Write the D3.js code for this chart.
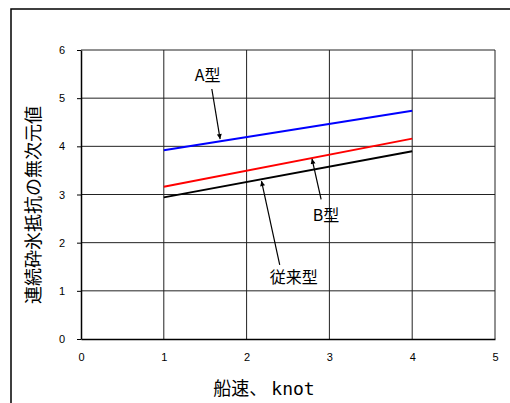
<!DOCTYPE html>
<html>
<head>
<meta charset="utf-8">
<script src="https://cdn.jsdelivr.net/npm/d3@7"></script>
<style>
  html, body { margin: 0; padding: 0; background: #fff; }
  svg { display: block; }
</style>
</head>
<body>
<svg id="chart"></svg>
<script>
// values
const speeds = [1, 4];
const typeA = [3.92, 4.74];
const typeB = [3.16, 4.16];
const conventional = [2.94, 3.90];
const xTicks = [0, 1, 2, 3, 4, 5];
const yTicks = [0, 1, 2, 3, 4, 5, 6];

// label callouts in data units: label point, arrow start, arrow tip on the line
const callouts = [
  {text: "A型", lx: 1.53, ly: 5.47, sx: 1.58, sy: 5.19, ex: 1.68, ey: 4.15},
  {text: "B型", lx: 2.96, ly: 2.57, sx: 2.9, sy: 2.9, ex: 2.79, ey: 3.74},
  {text: "従来型", lx: 2.57, ly: 1.27, sx: 2.4, sy: 1.54, ex: 2.18, ey: 3.28}
];

const width = 510, height = 403;
const margin = {top: 50, right: 15, bottom: 64, left: 81};

const svg = d3.select("#chart")
    .attr("width", width)
    .attr("height", height)
    .attr("viewBox", [0, 0, width, height]);

// outer frame
svg.append("rect")
    .attr("x", 11).attr("y", 9)
    .attr("width", 520).attr("height", 420)
    .attr("fill", "none")
    .attr("stroke", "#000")
    .attr("stroke-width", 1.5);

const x = d3.scaleLinear([0, 5], [margin.left, width - margin.right]);
const y = d3.scaleLinear([0, 6], [height - margin.bottom, margin.top]);

// grid
svg.append("g")
    .attr("stroke", "#222")
    .attr("stroke-width", 1)
    .call(g => g.selectAll("line.v").data(xTicks.slice(1)).join("line")
        .attr("x1", d => x(d)).attr("x2", d => x(d))
        .attr("y1", y(0)).attr("y2", y(6)))
    .call(g => g.selectAll("line.h").data(yTicks.slice(1)).join("line")
        .attr("x1", x(0)).attr("x2", x(5))
        .attr("y1", d => y(d)).attr("y2", d => y(d)));

const tickFont = "'Liberation Sans', Arial, sans-serif";

svg.append("g")
    .attr("transform", `translate(0,${y(0)})`)
    .call(d3.axisBottom(x).tickValues(xTicks).tickFormat(d3.format("d")).tickSize(0).tickPadding(14))
    .call(g => g.select(".domain").attr("stroke-width", 1.5))
    .call(g => g.selectAll("text").attr("font-family", tickFont).attr("font-size", 11).attr("fill", "#000"));

svg.append("g")
    .attr("transform", `translate(${x(0)},0)`)
    .call(d3.axisLeft(y).tickValues(yTicks).tickFormat(d3.format("d")).tickSize(4).tickSizeOuter(0).tickPadding(12))
    .call(g => g.select(".domain").attr("stroke-width", 1.5))
    .call(g => g.selectAll("text").attr("font-family", tickFont).attr("font-size", 11).attr("fill", "#000"));

// series
const line = d3.line().x(d => x(d[0])).y(d => y(d[1]));
const series = [
  {values: typeA, color: "#0000ff"},
  {values: typeB, color: "#ff0000"},
  {values: conventional, color: "#000000"}
];
svg.append("g")
    .attr("fill", "none")
    .attr("stroke-width", 2)
    .selectAll("path")
    .data(series)
    .join("path")
    .attr("stroke", d => d.color)
    .attr("d", d => line(d3.zip(speeds, d.values)));

// arrows
svg.append("defs").append("marker")
    .attr("id", "arrow")
    .attr("viewBox", "0 0 10 10")
    .attr("refX", 10).attr("refY", 5)
    .attr("markerWidth", 7).attr("markerHeight", 5)
    .attr("orient", "auto")
    .attr("markerUnits", "userSpaceOnUse")
    .append("path")
    .attr("d", "M0,0L10,5L0,10Z")
    .attr("fill", "#000");

const cjk = "'Noto Sans CJK JP', 'Noto Sans', sans-serif";

svg.append("g")
    .selectAll("line")
    .data(callouts)
    .join("line")
    .attr("x1", d => x(d.sx)).attr("y1", d => y(d.sy))
    .attr("x2", d => x(d.ex)).attr("y2", d => y(d.ey))
    .attr("stroke", "#000")
    .attr("stroke-width", 1.2)
    .attr("marker-end", "url(#arrow)");

svg.append("g")
    .attr("font-family", cjk)
    .attr("font-size", 16)
    .attr("text-anchor", "middle")
    .selectAll("text")
    .data(callouts)
    .join("text")
    .attr("x", d => x(d.lx))
    .attr("y", d => y(d.ly))
    .attr("dy", "0.35em")
    .text(d => d.text);

// axis titles
const xTitle = svg.append("text")
    .attr("x", 264).attr("y", 395)
    .attr("text-anchor", "middle")
    .attr("font-family", cjk)
    .attr("font-size", 18);
xTitle.append("tspan").text("船速、 ");
xTitle.append("tspan")
    .attr("font-family", "'DejaVu Sans Mono', 'Liberation Mono', monospace")
    .attr("font-size", 18)
    .text("knot");

svg.append("text")
    .attr("transform", `translate(34,205) rotate(-90)`)
    .attr("text-anchor", "middle")
    .attr("dy", "0.35em")
    .attr("font-family", cjk)
    .attr("font-size", 18)
    .text("連続砕氷抵抗の無次元値");
</script>
</body>
</html>
